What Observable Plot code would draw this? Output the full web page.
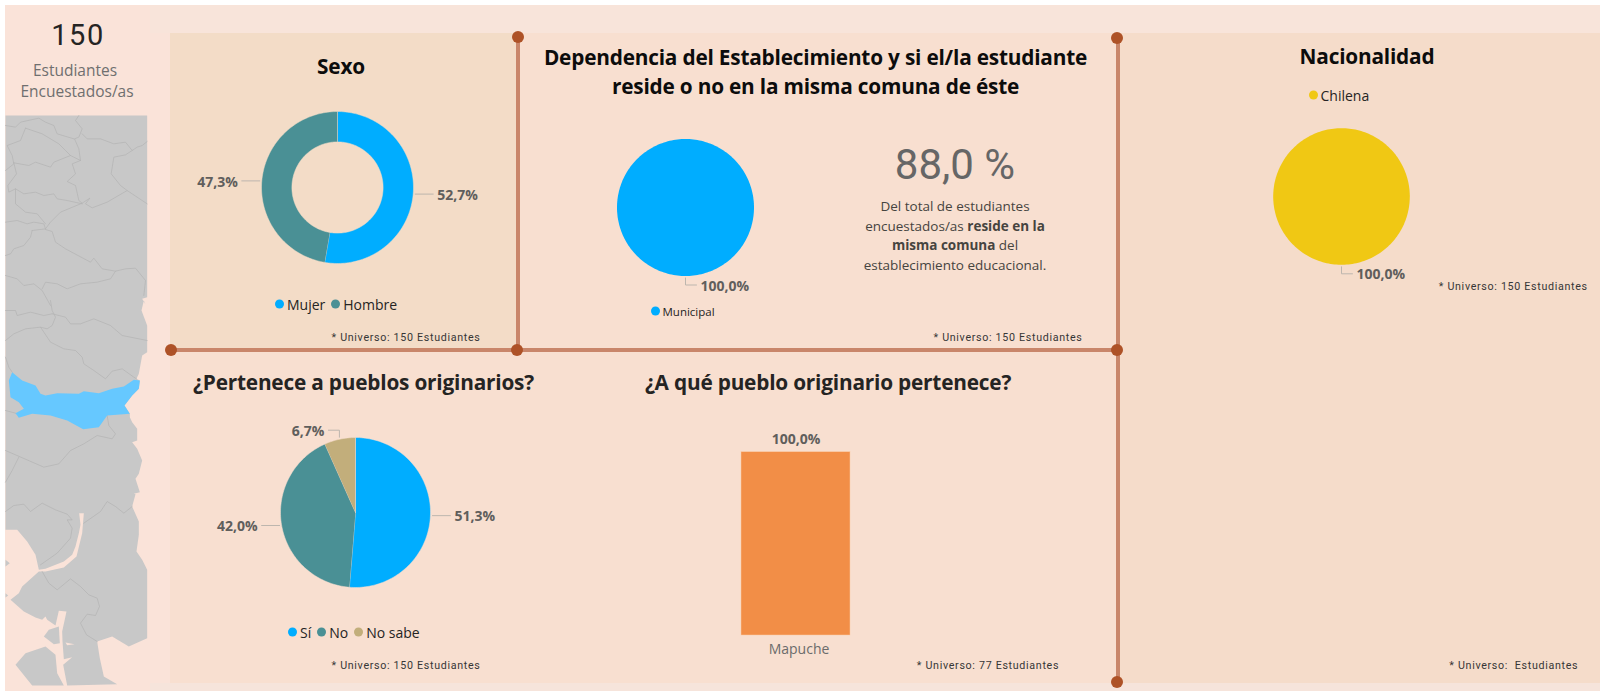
<!DOCTYPE html>
<html lang="es">
<head>
<meta charset="utf-8">
<script src="https://cdn.jsdelivr.net/npm/d3@7"></script>
<script src="https://cdn.jsdelivr.net/npm/@observablehq/plot@0.6"></script>
<style>
html,body{margin:0;padding:0;background:#fff;}
#page{position:relative;width:1600px;height:691px;overflow:hidden;background:#fff;font-family:"Open Sans",sans-serif;}
.box,.txt,.chart{position:absolute;}
.txt{white-space:pre;transform:translate(-50%,-50%);text-align:center;line-height:1;}
.title{font-weight:700;color:#0c0c0c;font-family:"Open Sans",sans-serif;letter-spacing:-0.2px;}
.foot{font-family:Roboto,sans-serif;font-size:10.7px;letter-spacing:.68px;color:#363636;}
.chart svg{display:block;background:transparent !important;overflow:visible;}
.lg{position:absolute;display:flex;align-items:center;transform:translateY(-50%);white-space:nowrap;color:#252423;}
.lg i{display:inline-block;border-radius:50%;}
</style>
</head>
<body>
<div id="page"></div>
<script>
// ---------- data ----------
const sexoCats = ["Mujer", "Hombre"];
const sexoVals = [52.7, 47.3];
const puebloCats = ["Sí", "No", "No sabe"];
const puebloVals = [51.3, 42.0, 6.7];
const depCats = ["Municipal"];
const depVals = [100];
const nacCats = ["Chilena"];
const nacVals = [100];
const origCats = ["Mapuche"];
const origVals = [100];

const BLUE = "#00adff", TEAL = "#4a9095", TAN = "#c2ae7b", YEL = "#f0c814", ORA = "#f28e47";
const PAGE = "#fae3d9", PANEL = "#f8dfd0", SEXO = "#f3dcc7", RIGHT = "#f5dcca", BAND = "#f8e4da";
const LINE = "#c9866a", DOT = "#ae5227", LBL = "#605e5c";

// map: three crops of the map strip
const c7 = a => a.map(([x, y]) => [x / 3, 105 + y / 3]);
const c8 = a => a.map(([x, y]) => [x / 3, 300 + y / 3]);
const c9 = a => a.map(([x, y]) => [x / 3, 491 + y / 3]);

const mapLand = [
  [...c7([[15,30],[440,30],[440,575],[425,580],[435,597]]),
   ...c8([[430,0],[423,30],[440,75],[440,155],[425,165],[415,220],[408,235],[418,240],[415,265],[395,285],[372,315],[388,340],[388,350],[395,365],[410,385],[410,420],[395,425],[410,445],[425,480],[415,520],[405,535],[418,575],[400,580]]),
   ...c9([[405,8],[395,45],[415,90],[415,130],[408,180],[425,205],[440,235],[440,440],[385,465],[335,435],[290,450],[298,500],[310,555],[350,578],[200,582],[188,520],[215,497],[190,503],[186,450],[185,420],[198,360],[175,358],[165,402],[140,385],[135,375],[125,385],[105,378],[70,360],[30,325],[55,305],[65,285],[115,240],[135,240],[190,228],[228,195],[245,125],[250,65],[236,65],[240,100],[235,125],[225,165],[215,190],[190,210],[135,232],[115,235],[105,190],[80,150],[50,115],[15,115]])],
  c9([[45,520],[75,485],[135,465],[165,490],[170,545],[190,582],[95,582]]),
  c9([[130,435],[145,415],[175,405],[178,455],[160,458]]),
  c9([[15,205],[28,215],[15,225]]),
  c9([[15,305],[23,312],[15,318]])
];
const mapLakes = [ c9([[195,453],[222,458],[200,461]]) ];
const mapBlue = c8([[35,215],[65,240],[105,255],[120,280],[135,285],[170,278],[235,280],[250,272],[295,278],[335,265],[370,258],[400,238],[418,240],[415,265],[395,285],[372,315],[388,340],[320,345],[295,380],[248,386],[200,360],[150,345],[95,340],[55,352],[45,338],[70,325],[55,305],[30,290],[25,240]]);
const mapBorders = [
  c7([[15,60],[45,65],[60,50],[115,38],[135,50],[160,60],[170,85],[220,100]]),
  c7([[235,30],[225,45],[245,70],[235,95],[222,100],[235,130],[240,165]]),
  c7([[245,85],[260,100],[300,100],[340,115],[375,110],[395,135],[410,125],[425,120],[440,108]]),
  c7([[75,68],[60,105],[20,120],[35,150],[40,175],[15,195]]),
  c7([[75,68],[125,85],[175,115],[195,135],[210,150],[160,170],[150,185],[105,170],[85,180],[40,172]]),
  c7([[210,150],[240,165],[215,175],[225,205],[200,228],[225,240],[235,285],[245,293]]),
  c7([[40,172],[48,205],[22,240],[25,260],[45,250],[70,265],[105,260],[130,270],[160,265],[170,280],[200,285],[245,295]]),
  c7([[45,250],[45,295],[75,320],[110,325],[135,355]]),
  c7([[15,350],[50,345],[80,355],[100,350],[130,355],[135,370],[95,375]]),
  c7([[135,370],[150,350],[180,320],[245,293],[268,278],[255,295],[275,307],[320,290],[380,255],[440,295]]),
  c7([[380,255],[360,240],[332,205],[340,155],[375,148],[395,135]]),
  c7([[135,372],[155,378],[165,410],[195,430],[270,470],[280,458],[305,490],[345,497],[375,490],[405,488],[435,525],[430,570]]),
  c7([[95,375],[90,395],[70,420],[40,430],[30,445],[15,450]]),
  c7([[15,510],[50,520],[70,540],[100,535],[125,555],[150,600]]),
  c7([[125,550],[135,530],[170,535],[200,550],[240,535],[290,530],[330,520],[345,497]]),
  c8([[150,0],[155,30],[165,50],[155,75],[140,85],[120,80],[75,85],[40,100],[15,120]]),
  c8([[15,30],[45,30],[50,45],[90,35],[130,45],[155,40]]),
  c8([[155,40],[195,50],[210,70],[240,70],[280,55],[330,75],[365,105],[440,120]]),
  c8([[120,80],[150,125],[190,145],[225,150],[245,170],[250,190],[280,210],[315,235],[335,212],[365,205],[400,230],[408,235]]),
  c8([[320,345],[325,375],[345,400],[335,415],[290,405],[250,430],[210,450],[175,490],[130,500],[15,450]]),
  c8([[55,470],[35,510],[15,545]]),
  c8([[15,170],[25,200],[35,215]]),
  c8([[15,330],[45,338]]),
  c9([[15,60],[40,42],[70,38],[90,60],[125,35],[165,55],[200,68],[215,85],[200,85],[215,110],[210,140],[170,185],[120,220]]),
  c9([[250,95],[300,60],[320,30],[345,45],[370,65],[395,45]]),
  c9([[125,240],[145,275],[170,295],[210,262],[240,285],[265,310],[290,320],[297,345],[285,372],[260,368],[240,395],[258,430],[290,450]])
];

// ---------- helpers ----------
const page = document.getElementById("page");
function box(l, t, w, h, color, extra) {
  const d = document.createElement("div");
  d.className = "box";
  d.style.cssText = `left:${l}px;top:${t}px;width:${w}px;height:${h}px;background:${color};${extra || ""}`;
  page.appendChild(d);
}
function text(str, cx, cy, size, css, cls, html) {
  const d = document.createElement("div");
  d.className = "txt " + (cls || "");
  d.style.cssText = `left:${cx}px;top:${cy}px;font-size:${size}px;${css || ""}`;
  if (html) d.innerHTML = str; else d.textContent = str;
  page.appendChild(d);
  return d;
}
function place(svg, l, t) {
  const d = document.createElement("div");
  d.className = "chart";
  d.style.left = l + "px";
  d.style.top = t + "px";
  d.appendChild(svg);
  page.appendChild(d);
}
function legend(l, cy, size, dotSize, gap, family, cats, colors) {
  const d = document.createElement("div");
  d.className = "lg";
  d.style.cssText = `left:${l}px;top:${cy}px;font-size:${size}px;font-family:${family};`;
  cats.forEach((c, i) => {
    const s = document.createElement("span");
    s.style.cssText = `display:flex;align-items:center;margin-right:${gap}px;`;
    s.innerHTML = `<i style="width:${dotSize}px;height:${dotSize}px;background:${colors[i]};margin-right:3px"></i>${c}`;
    d.appendChild(s);
  });
  page.appendChild(d);
}
const fmt = v => d3.format(".1f")(v).replace(".", ",") + "%";

// pie/donut drawn with Plot: each slice is a filled line in radius units
function pie(values, cats, colors, {cx, cy, R, hole = 0, w = 340, h = 240, bg = PANEL}) {
  const total = d3.sum(values);
  const slices = [], leaders = [], labels = [];
  let a0 = 0;
  const unit = 1 / R;                 // one pixel in radius units
  const whole = values.length === 1;
  values.forEach((v, i) => {
    const a1 = a0 + (v / total) * 2 * Math.PI;
    const n = Math.max(2, Math.ceil((a1 - a0) * R / 2));
    const arc = d3.range(n + 1).map(k => a0 + (a1 - a0) * k / n);
    arc.forEach(a => slices.push({cat: cats[i], x: Math.sin(a), y: Math.cos(a)}));
    if (hole > 0) arc.slice().reverse().forEach(a => slices.push({cat: cats[i], x: hole * Math.sin(a), y: hole * Math.cos(a)}));
    else if (!whole) slices.push({cat: cats[i], x: 0, y: 0});
    const m = (a0 + a1) / 2, sx = Math.sin(m), sy = Math.cos(m);
    const rr = 1 + 2 * unit;
    const side = sx < -0.01 ? -1 : 1;
    const px = rr * sx, py = rr * sy;
    let pts, ey;
    if (Math.abs(sx) < 0.3) {
      ey = py + (sy > 0 ? 7 : -7) * unit;
      pts = [[px, py], [px, ey], [px + side * 11 * unit, ey]];
    } else {
      ey = py;
      pts = [[px, py], [px + side * 18 * unit, py]];
    }
    pts.forEach(([x, y]) => leaders.push({cat: cats[i], x, y}));
    labels.push({
      x: pts[pts.length - 1][0] + side * 4 * unit,
      y: ey - 1.2 * unit,
      t: fmt(v),
      anchor: side > 0 ? "start" : "end"
    });
    a0 = a1;
  });
  const svg = Plot.plot({
    width: w, height: h, margin: 0,
    x: {domain: [-w / 2 * unit, w / 2 * unit], axis: null},
    y: {domain: [-h / 2 * unit, h / 2 * unit], axis: null},
    color: {domain: cats, range: colors},
    marks: [
      Plot.line(slices, {x: "x", y: "y", z: "cat", fill: "cat", stroke: whole ? "none" : bg, strokeWidth: 0.5}),
      Plot.line(leaders, {x: "x", y: "y", z: "cat", stroke: "#bdb6ae", strokeWidth: 1}),
      ...["start", "end"].map(anchor => Plot.text(labels.filter(d => d.anchor === anchor), {
        x: "x", y: "y", text: "t", textAnchor: anchor, lineAnchor: "middle",
        fontFamily: "Open Sans", fontWeight: 700, fontSize: 14, fill: LBL
      }))
    ]
  });
  place(svg, cx - w / 2, cy - h / 2);
}

// ---------- backgrounds ----------
box(5, 5, 1595, 686, PAGE);
box(150, 5, 1450, 28, BAND);
box(170, 33, 347, 317, SEXO);
box(517, 33, 600, 317, PANEL);
box(170, 350, 947, 333, PANEL);
box(1118, 33, 482, 650, RIGHT);
box(150, 683, 1450, 8, "#f6e4db");

// ---------- left column ----------
text("150", 78, 35, 29, "font-family:Roboto,sans-serif;letter-spacing:1.5px;color:#252423;");
text("Estudiantes", 75, 71, 15.5, "color:#6f6f6f;");
text("Encuestados/as", 77, 92, 15.5, "color:#6f6f6f;");

place(Plot.plot({
  width: 160, height: 586, margin: 0,
  x: {domain: [0, 160], axis: null},
  y: {domain: [105, 691], reverse: true, axis: null},
  marks: [
    Plot.line(mapLand.flatMap((p, i) => p.map(([x, y]) => ({x, y, z: i}))), {x: "x", y: "y", z: "z", fill: "#c8c8c8", stroke: "none"}),
    Plot.line(mapLakes.flatMap((p, i) => p.map(([x, y]) => ({x, y, z: i}))), {x: "x", y: "y", z: "z", fill: PAGE, stroke: "none"}),
    Plot.line(mapBorders.flatMap((p, i) => p.map(([x, y]) => ({x, y, z: i}))), {x: "x", y: "y", z: "z", stroke: "#b3b3b3", strokeWidth: 0.7, strokeLinejoin: "round"}),
    Plot.line(mapBlue.map(([x, y]) => ({x, y})), {x: "x", y: "y", fill: "#66c8ff", stroke: "none"})
  ]
}), 0, 105);

// ---------- titles ----------
text("Sexo", 341, 66, 20.8, "", "title");
text("Dependencia del Establecimiento y si el/la estudiante", 815.5, 57, 20.8, "", "title");
text("reside o no en la misma comuna de éste", 815.5, 86, 20.8, "", "title");
text("Nacionalidad", 1367, 56, 20.8, "", "title");
text("¿Pertenece a pueblos originarios?", 363.5, 382, 20.8, "color:#252423;", "title");
text("¿A qué pueblo originario pertenece?", 828, 382, 20.8, "color:#252423;", "title");

// ---------- charts ----------
pie(sexoVals, sexoCats, [BLUE, TEAL], {cx: 337, cy: 186.5, R: 76, hole: 0.6, bg: SEXO});
pie(depVals, depCats, [BLUE], {cx: 684.5, cy: 206.7, R: 68.5});
pie(nacVals, nacCats, [YEL], {cx: 1340.5, cy: 195.7, R: 68.3, bg: RIGHT});
pie(puebloVals, puebloCats, [BLUE, TEAL, TAN], {cx: 355, cy: 511.8, R: 75});

place(Plot.plot({
  width: 229, height: 235, marginLeft: 60, marginRight: 60, marginTop: 21.7, marginBottom: 30,
  x: {domain: origCats, padding: 0, label: null},
  y: {domain: [0, 100], axis: null},
  marks: [
    Plot.barY(origCats.map((c, i) => ({c, v: origVals[i]})), {x: "c", y: "v", fill: ORA, stroke: "#f9c9a4", strokeWidth: 0.5}),
    Plot.text(origCats.map((c, i) => ({c, v: origVals[i]})), {x: "c", y: "v", text: d => fmt(d.v), dy: -12.5, lineAnchor: "middle",
      fontFamily: "Open Sans", fontWeight: 700, fontSize: 14, fill: LBL}),
    Plot.axisX({tickSize: 0, tickPadding: 9, dx: 3, fontFamily: "Open Sans", fontSize: 14, fill: "#6b6b6b", label: null})
  ]
}), 680.7, 430);

// ---------- legends ----------
legend(275, 304, 14, 9, 6, "'Open Sans',sans-serif", sexoCats, [BLUE, TEAL]);
legend(288, 631.7, 14, 9, 6, "'Open Sans',sans-serif", puebloCats, [BLUE, TEAL, TAN]);
legend(650.5, 311, 11.5, 9, 0, "'Open Sans',sans-serif", depCats, [BLUE]);
legend(1308.5, 94.7, 14, 9, 0, "'Open Sans',sans-serif", nacCats, [YEL]);

// ---------- KPI ----------
text("88,0 %", 955, 165, 42, "font-family:Roboto,sans-serif;color:#666;");
const para = ["Del total de estudiantes", "encuestados/as <b>reside en la</b>", "<b>misma comuna</b> del", "establecimiento educacional."];
para.forEach((s, i) => text(s, 955, 207 + i * 19.6, 13.5, "color:#46443f;", "para", true));

// ---------- footnotes ----------
const foots = [["* Universo: 150 Estudiantes", 406, 338], ["* Universo: 150 Estudiantes", 1008, 338], ["* Universo: 150 Estudiantes", 1513.3, 287],
  ["* Universo: 150 Estudiantes", 406, 665.7], ["* Universo: 77 Estudiantes", 988, 665.7], ["* Universo:  Estudiantes", 1513.8, 665.7]];
foots.forEach(([s, x, y]) => text(s, x, y, 10.7, "", "foot"));

// ---------- frame ----------
box(516, 37, 3.5, 313, LINE);
box(171, 348, 946, 3.5, LINE);
box(1116, 38, 3.5, 644, LINE);
[[518, 37], [171, 349.5], [517, 349.5], [1117, 38], [1116.5, 349.5], [1117, 682]].forEach(([x, y]) => {
  box(x - 6, y - 6, 12, 12, DOT, "border-radius:50%;");
});
</script>
</body>
</html>
